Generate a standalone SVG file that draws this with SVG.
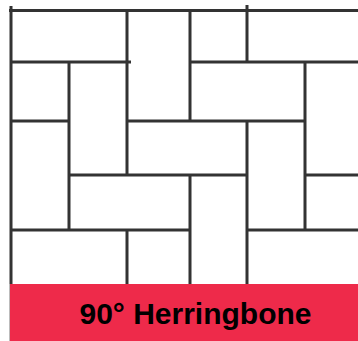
<svg xmlns="http://www.w3.org/2000/svg" width="358" height="341" viewBox="0 0 358 341">
<style>
.ln{stroke:#333;stroke-width:3;fill:none;stroke-linecap:butt}
.lbl{font-family:"Liberation Sans",Arial,sans-serif;font-weight:bold;font-size:30px;fill:#000}
</style>
<rect width="358" height="341" fill="#fff"/>
<g id="connectors">
<path class="ln" d="M11,6V284 M9,10.5H358 M11,62H131 M190,62H358 M11,121H69 M127,121H305 M69,175H247 M305,175H358 M11,230H190 M247,230H358 M69,62V230 M127,10V175 M127,230V284 M190,10V121 M190,175V284 M247,5V62 M247,121V284 M305,62V230"/>
</g>
<g id="label">
<line x1="9.5" y1="284" x2="9.5" y2="341" stroke="#bbb" stroke-width="1"/>
<rect x="10" y="284" width="348" height="57" fill="#EE2A4A"/>
<text class="lbl" x="195.5" y="324" text-anchor="middle">90° Herringbone</text>
</g>
</svg>
